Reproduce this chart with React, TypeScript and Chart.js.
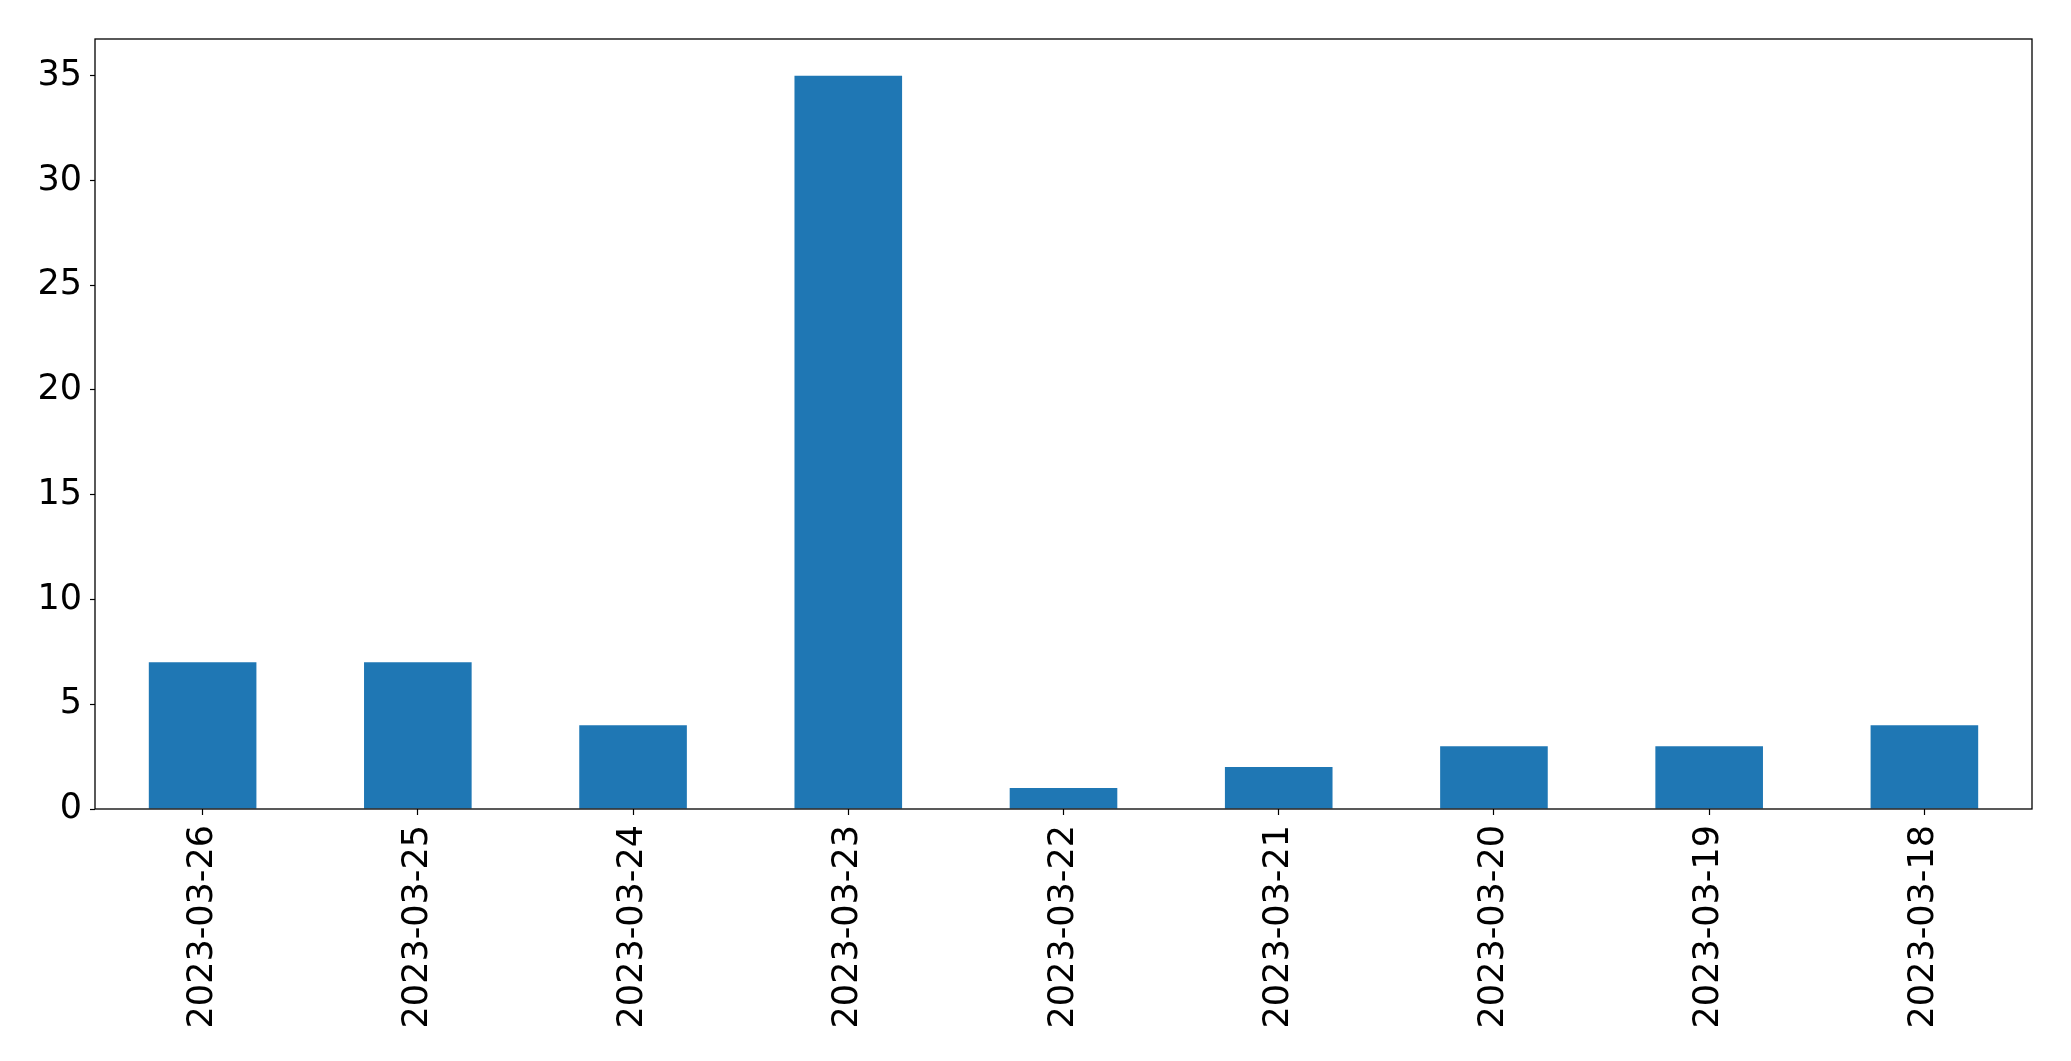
import React, { useEffect, useRef } from "react";
import { Chart, registerables } from "chart.js";

Chart.register(...registerables);

const categories = [
  "2023-03-26",
  "2023-03-25",
  "2023-03-24",
  "2023-03-23",
  "2023-03-22",
  "2023-03-21",
  "2023-03-20",
  "2023-03-19",
  "2023-03-18",
];
const counts = [7, 7, 4, 35, 1, 2, 3, 3, 4];
const yTicks = [0, 5, 10, 15, 20, 25, 30, 35];
const yMin = 0;
const yMax = 36.75;

const FONT = "'DejaVu Sans', sans-serif";

const framePlugin = {
  id: "frame",
  afterDraw(chart: any) {
    const { ctx, chartArea } = chart;
    ctx.save();
    ctx.strokeStyle = "#000";
    ctx.lineWidth = 1.3;
    ctx.strokeRect(chartArea.left, chartArea.top, chartArea.right - chartArea.left, chartArea.bottom - chartArea.top);
    ctx.restore();
  },
};

export default function App() {
  const ref = useRef<HTMLCanvasElement>(null);
  useEffect(() => {
    document.body.style.margin = "0";
    const chart = new Chart(ref.current!, {
      type: "bar",
      data: {
        labels: categories,
        datasets: [
          {
            data: counts,
            backgroundColor: "#1f77b4",
            borderWidth: 0,
            categoryPercentage: 1,
            barPercentage: 0.5,
          },
        ],
      },
      options: {
        animation: false,
        responsive: false,
        maintainAspectRatio: false,
        layout: { padding: { left: 0, top: 39, right: 39, bottom: 0 } },
        plugins: { legend: { display: false }, tooltip: { enabled: false } },
        scales: {
          x: {
            grid: { display: true, offset: false, drawTicks: true, tickLength: 6, tickColor: "#000", drawOnChartArea: false, tickWidth: 1.2 },
            border: { display: false },
            ticks: {
              color: "#000",
              font: { family: FONT, size: 35 },
              minRotation: 90,
              maxRotation: 90,
              autoSkip: false,
              padding: 10,
            },
            afterFit(scale: any) {
              scale.height = 252;
            },
          },
          y: {
            min: yMin,
            max: yMax,
            grid: { display: true, drawOnChartArea: false, drawTicks: true, tickLength: 5, tickColor: "#000", tickWidth: 1.2 },
            border: { display: false },
            ticks: {
              color: "#000",
              font: { family: FONT, size: 35 },
              padding: 8,
            },
            afterBuildTicks(scale: any) {
              scale.ticks = yTicks.map((v) => ({ value: v }));
            },
            afterFit(scale: any) {
              scale.width = 95;
            },
          },
        },
      },
      plugins: [framePlugin],
    });
    return () => chart.destroy();
  }, []);
  return (
    <div style={{ position: "absolute", left: 0, top: 0, width: 2071, height: 1061, background: "#fff" }}>
      <canvas ref={ref} width={2071} height={1061} style={{ width: 2071, height: 1061 }} />
    </div>
  );
}
